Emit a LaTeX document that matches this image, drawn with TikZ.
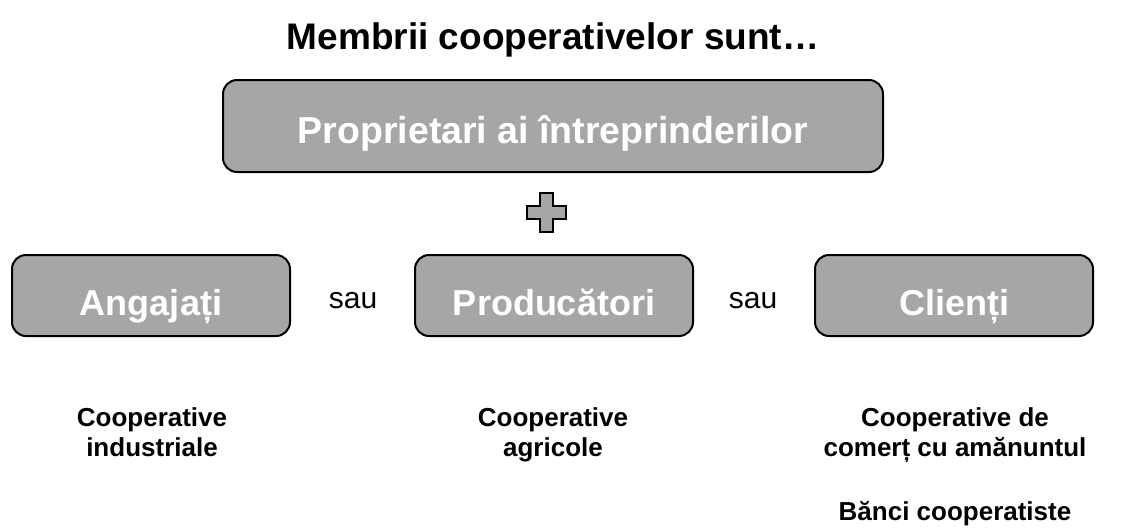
\documentclass[tikz,border=0pt]{standalone}
\usepackage{fontspec}
\setmainfont{Liberation Sans}
\definecolor{boxgray}{RGB}{166,166,166}
\begin{document}
\begin{tikzpicture}[x=1pt,y=-1pt,
  box/.style={draw=black, line width=2pt, fill=boxgray, rounded corners=14pt,
    text=white, inner sep=0pt},
  topbox/.style={box, minimum width=660pt, minimum height=92pt,
    font=\fontsize{37.5}{44}\selectfont\bfseries, text height=35pt, text depth=0pt},
  lowbox/.style={box, minimum width=278pt, minimum height=81pt,
    font=\fontsize{36}{42}\selectfont\bfseries, text height=39pt, text depth=0pt},
  ortext/.style={font=\fontsize{30}{34}\selectfont, inner sep=0pt, anchor=base},
  label/.style={font=\fontsize{26}{30}\selectfont\bfseries, align=center, inner sep=0pt, anchor=base},
  titletext/.style={font=\fontsize{37}{42}\selectfont\bfseries, inner sep=0pt, anchor=base}
]
\useasboundingbox (0,0) rectangle (1121,531);
\node[titletext] (title) at (553,49) {Membrii cooperativelor sunt…};
\node[topbox] (owners) at (553,126) {Proprietari ai întreprinderilor};
\draw[line width=2pt, fill=boxgray] (540,193) -- (553,193) -- (553,206) -- (566,206) -- (566,219) -- (553,219) -- (553,232) -- (540,232) -- (540,219) -- (527,219) -- (527,206) -- (540,206) -- cycle;
\node[lowbox] (emp) at (151,295.5) {Angajați};
\node[lowbox] (prod) at (554,295.5) {Producători};
\node[lowbox] (cli) at (954,295.5) {Clienți};
\node[ortext] (or1) at (353,308) {sau};
\node[ortext] (or2) at (753,308) {sau};
\node[label] (l1) at (152,456) {Cooperative\\industriale};
\node[label] (l2) at (553,456) {Cooperative\\agricole};
\node[label] (l3) at (955,456) {Cooperative de\\comerț cu amănuntul};
\node[label] (l4) at (955,520) {Bănci cooperatiste};
\end{tikzpicture}
\end{document}
